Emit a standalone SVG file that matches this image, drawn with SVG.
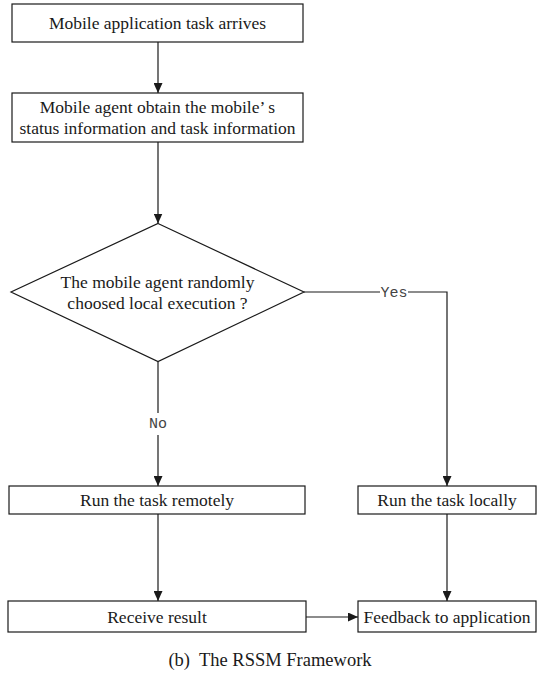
<svg xmlns="http://www.w3.org/2000/svg" width="537" height="673" viewBox="0 0 537 673">
<defs>
<marker id="ah" markerUnits="userSpaceOnUse" markerWidth="10" markerHeight="9" refX="10" refY="4.5" orient="auto">
<path d="M0,0 L10,4.5 L0,9 z" fill="#1a1a1a"/>
</marker>
<style>
.box{fill:#fff;stroke:#1a1a1a;stroke-width:1.2}
.t{font-family:"Liberation Serif","Times New Roman",serif;font-size:17.5px;fill:#1a1a1a;text-anchor:middle}
.lbl{font-family:"Liberation Mono","Courier New",monospace;font-size:15px;fill:#444;text-anchor:middle}
.c{fill:none;stroke:#1a1a1a;stroke-width:1.2}
.a{marker-end:url(#ah)}
</style>
</defs>
<rect width="537" height="673" fill="#fff"/>
<g id="connectors">
<line class="c a" x1="158" y1="42" x2="158" y2="93"/>
<line class="c a" x1="158" y1="142" x2="158" y2="223.5"/>
<line class="c" x1="158" y1="362" x2="158" y2="413"/>
<line class="c a" x1="158" y1="435" x2="158" y2="486"/>
<line class="c" x1="304" y1="292" x2="380" y2="292"/>
<polyline class="c a" points="408,292 447,292 447,486"/>
<line class="c a" x1="158" y1="514" x2="158" y2="601"/>
<line class="c a" x1="447" y1="514" x2="447" y2="601"/>
<line class="c a" x1="306" y1="617" x2="358" y2="617"/>
<text class="lbl" x="394" y="297">Yes</text>
<text class="lbl" x="158" y="428">No</text>
</g>
<g id="n1">
<rect class="box" x="12" y="4" width="291" height="38"/>
<text class="t" x="157.5" y="29">Mobile application task arrives</text>
</g>
<g id="n2">
<rect class="box" x="12" y="93" width="291" height="49"/>
<text class="t" x="157.5" y="113">Mobile agent obtain the mobile’ s</text>
<text class="t" x="157.5" y="134">status information and task information</text>
</g>
<g id="decision">
<polygon class="box" points="158,223.5 304,292 158,361.5 11,292"/>
<text class="t" x="157.5" y="288">The mobile agent randomly</text>
<text class="t" x="157.5" y="309">choosed local execution ?</text>
</g>
<g id="remote">
<rect class="box" x="9" y="486" width="296" height="28"/>
<text class="t" x="157" y="506">Run the task remotely</text>
</g>
<g id="local">
<rect class="box" x="358" y="486" width="178" height="28"/>
<text class="t" x="447" y="506">Run the task locally</text>
</g>
<g id="receive">
<rect class="box" x="8" y="601" width="298" height="31"/>
<text class="t" x="157" y="623">Receive result</text>
</g>
<g id="feedback">
<rect class="box" x="358" y="601" width="178" height="31"/>
<text class="t" x="447" y="623">Feedback to application</text>
</g>
<text class="t" x="270" y="666" style="font-size:18.5px" xml:space="preserve">(b)  The RSSM Framework</text>
</svg>
